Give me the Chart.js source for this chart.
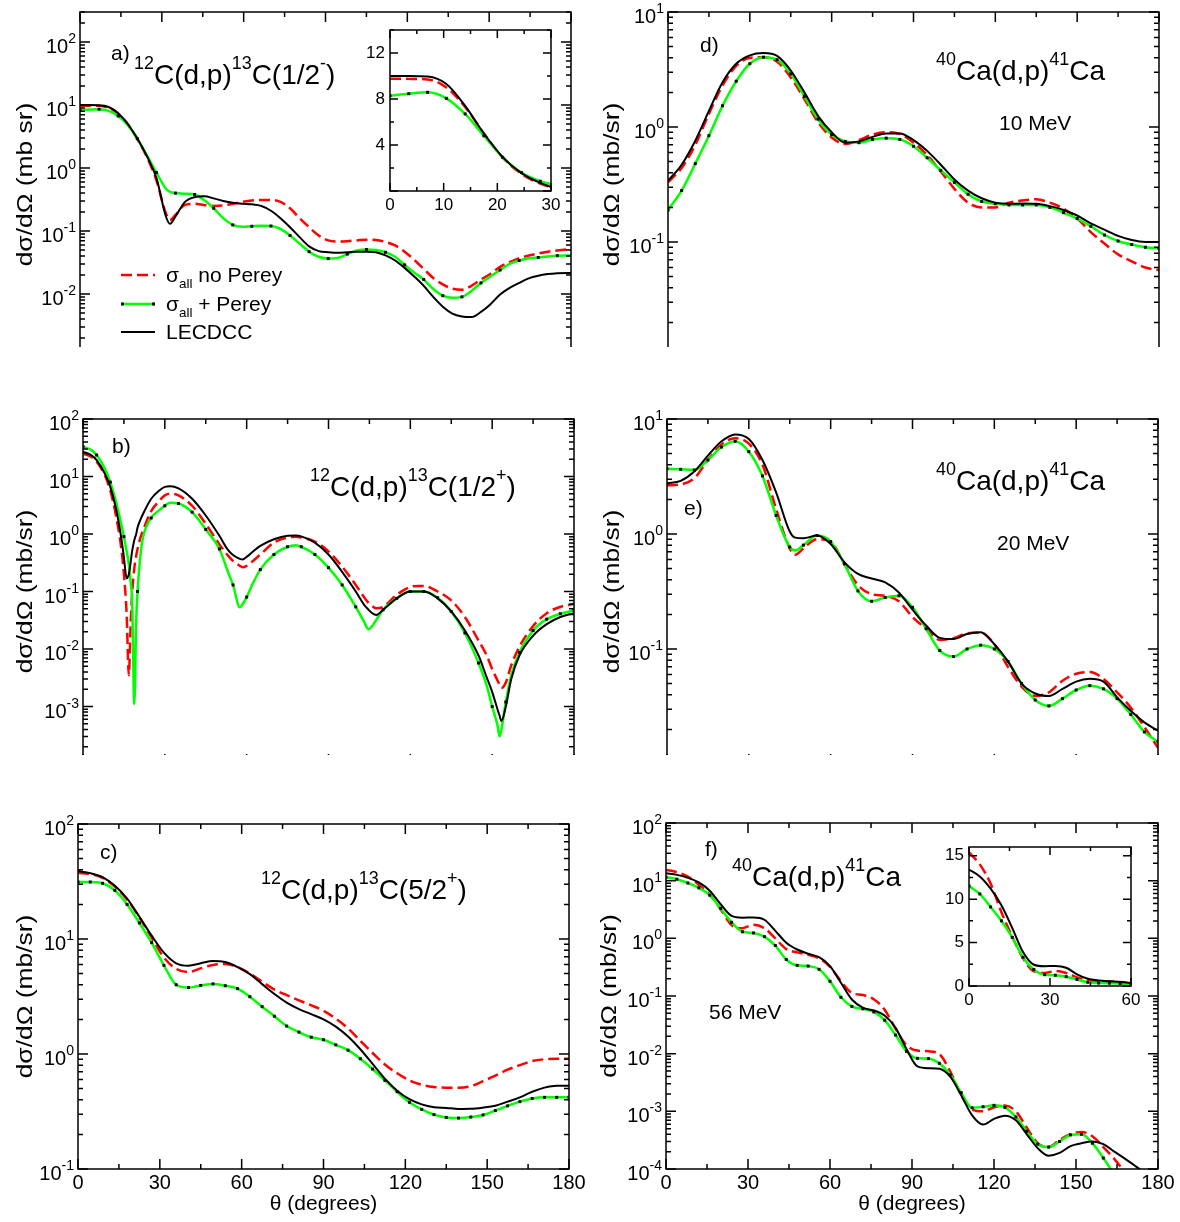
<!DOCTYPE html>
<html>
<head>
<meta charset="utf-8">
<title>(d,p) angular distributions</title>
<script src="https://cdn.jsdelivr.net/npm/chart.js@4.4.1/dist/chart.umd.min.js"></script>
<style>
  html, body { margin: 0; padding: 0; background: #fff; }
  body { width: 1180px; height: 1222px; position: relative; overflow: hidden; }
  .pan { position: absolute; overflow: hidden; }
  .pan canvas { display: block; }
</style>
</head>
<body>
<script>
const FONT = '"Liberation Sans", Arial, Helvetica, sans-serif';

// series names (legend of panel a)
const seriesNames = ['σall no Perey', 'σall + Perey', 'LECDCC'];

// ---- a) 12C(d,p)13C(1/2-) ----
const thetaA = [0,3.5,7,10.5,14,17.5,21,24.5,28,31.5,33,35,38.5,42,45.5,49,52.5,56,59.5,63,66.5,70,73.5,77,80.5,84,87.5,91,94.5,98,101.5,105,108.5,112,115.5,119,122.5,126,129.5,133,136.5,140,143.5,147,150.5,154,157.5,161,164.5,168,171.5,175,178.5,180];
const noPereyA = [9.77,9.75,9.7,9.0,7.3,5.0,2.9,1.5,0.64,0.19,0.15,0.18,0.26,0.27,0.26,0.25,0.255,0.27,0.29,0.305,0.31,0.31,0.29,0.23,0.16,0.115,0.085,0.071,0.068,0.069,0.071,0.073,0.072,0.067,0.059,0.047,0.035,0.025,0.018,0.0142,0.0122,0.0117,0.0135,0.017,0.021,0.027,0.032,0.037,0.041,0.044,0.047,0.049,0.051,0.052];
const pereyA = [8.29,8.46,8.58,8.06,6.7,4.8,2.93,1.6,0.85,0.47,0.42,0.4,0.39,0.38,0.31,0.23,0.16,0.125,0.117,0.119,0.121,0.12,0.108,0.085,0.063,0.047,0.039,0.0365,0.0375,0.043,0.049,0.051,0.05,0.046,0.039,0.029,0.022,0.017,0.012,0.0094,0.0087,0.009,0.0112,0.015,0.019,0.024,0.03,0.034,0.037,0.038,0.0395,0.0405,0.041,0.041];
const lecdccA = [10.0,10.0,9.95,9.3,7.4,5.0,2.95,1.55,0.7,0.17,0.13,0.17,0.29,0.345,0.355,0.33,0.3,0.28,0.27,0.265,0.25,0.21,0.16,0.115,0.08,0.057,0.048,0.046,0.045,0.046,0.047,0.047,0.046,0.041,0.034,0.026,0.019,0.0135,0.009,0.0063,0.0049,0.0044,0.0043,0.0052,0.0069,0.0098,0.0125,0.015,0.0177,0.0195,0.0207,0.0214,0.0216,0.0216];

// ---- b) 12C(d,p)13C(1/2+) ----
const thetaB = [0,3,5,8,10,12,14,15,16,16.8,17.5,18,18.8,19.5,20,21,22,25,28,30,32,35,40,45,50,53,55,57.5,58.5,60,62,65,70,75,78,80,85,90,95,100,103,104.7,106,107.5,110,115,120,123,125,130,135,140,145,148,150,152,152.7,153.4,155,157,160,165,170,175,180];
const noPereyB = [25,22,18,10.5,5.7,2.2,0.58,0.2,0.04,0.0035,0.03,0.09,0.25,0.42,0.55,0.85,1.15,2.5,3.8,4.7,5.05,4.7,3.1,1.5,0.66,0.43,0.34,0.28,0.265,0.28,0.33,0.44,0.71,0.87,0.9,0.87,0.74,0.5,0.27,0.13,0.08,0.063,0.056,0.051,0.054,0.088,0.12,0.125,0.125,0.1,0.07,0.036,0.014,0.0077,0.0045,0.0028,0.0024,0.0021,0.0026,0.0052,0.011,0.025,0.042,0.054,0.061];
const pereyB = [33,29,23.6,13.7,8.0,3.8,1.5,0.9,0.5,0.3,0.14,0.07,0.0011,0.03,0.1,0.4,0.87,1.9,2.6,3.1,3.5,3.4,2.4,1.2,0.55,0.23,0.13,0.053,0.06,0.08,0.13,0.24,0.44,0.6,0.64,0.6,0.44,0.26,0.13,0.054,0.03,0.022,0.025,0.032,0.048,0.076,0.1,0.1,0.1,0.078,0.045,0.019,0.0057,0.0023,0.001,0.00046,0.0003,0.0004,0.0012,0.0035,0.0087,0.021,0.033,0.041,0.047];
const lecdccB = [27,23.5,19.3,11.2,6.6,2.9,0.87,0.39,0.17,0.2,0.33,0.5,0.78,1.0,1.3,1.75,2.23,4.1,5.7,6.6,6.75,6.2,4.1,2.1,0.93,0.54,0.43,0.37,0.36,0.4,0.48,0.62,0.81,0.93,0.94,0.91,0.71,0.44,0.22,0.1,0.059,0.048,0.042,0.039,0.048,0.076,0.1,0.1,0.1,0.076,0.045,0.021,0.0077,0.0032,0.0018,0.00088,0.0007,0.00056,0.001,0.003,0.0077,0.017,0.027,0.036,0.042];

// ---- c) 12C(d,p)13C(5/2+) ----
const thetaC = [0,4.5,9,13.5,18,22.5,27,31.5,36,40.5,45,49.5,54,58.5,63,67.5,72,76.5,81,85.5,90,94.5,99,103.5,108,112.5,117,121.5,126,130.5,135,139.5,144,148.5,153,157.5,162,166.5,171,175.5,180];
const noPereyC = [37.6,36.7,34,28.6,22,15.4,10.3,6.9,5.5,5.15,5.55,5.95,6.05,5.7,5.0,4.25,3.63,3.25,2.93,2.65,2.38,2.03,1.67,1.3,1.02,0.81,0.68,0.59,0.54,0.517,0.51,0.51,0.525,0.58,0.65,0.73,0.8,0.87,0.9,0.91,0.91];
const pereyC = [31.3,31.3,30.5,26.5,20,13.8,9.3,5.9,4.0,3.78,3.95,4.07,3.92,3.7,3.15,2.58,2.13,1.75,1.55,1.4,1.33,1.2,1.08,0.91,0.74,0.59,0.47,0.38,0.33,0.297,0.281,0.277,0.283,0.295,0.322,0.354,0.385,0.41,0.42,0.42,0.42];
const lecdccC = [39,37.4,34.5,29,22.5,15.6,10.7,7.6,6.15,5.86,6.15,6.45,6.3,5.7,4.95,4.05,3.32,2.8,2.46,2.22,2.0,1.73,1.42,1.1,0.82,0.61,0.48,0.405,0.365,0.345,0.34,0.333,0.334,0.342,0.355,0.385,0.42,0.47,0.51,0.53,0.53];

// ---- d) 40Ca(d,p)41Ca, 10 MeV ----
const thetaD = [0,5,10,15,20,25,30,35,40,45,50,55,60,65,70,75,80,85,90,95,100,105,110,115,120,125,130,135,140,145,150,155,160,165,170,175,180];
const noPereyD = [0.33,0.44,0.7,1.3,2.3,3.4,4.0,4.05,3.7,2.7,1.75,1.1,0.81,0.71,0.77,0.86,0.9,0.87,0.73,0.57,0.41,0.29,0.22,0.2,0.2,0.22,0.23,0.235,0.22,0.195,0.16,0.122,0.097,0.078,0.068,0.06,0.057];
const pereyD = [0.19,0.28,0.48,0.84,1.53,2.5,3.55,4.05,3.85,2.9,1.85,1.17,0.86,0.75,0.73,0.78,0.8,0.78,0.68,0.54,0.42,0.33,0.26,0.225,0.215,0.21,0.21,0.21,0.2,0.18,0.16,0.137,0.115,0.102,0.095,0.09,0.088];
const lecdccD = [0.34,0.47,0.76,1.38,2.45,3.55,4.2,4.4,4.15,3.1,2.0,1.25,0.9,0.73,0.75,0.82,0.88,0.88,0.77,0.62,0.47,0.35,0.28,0.24,0.22,0.215,0.216,0.215,0.205,0.19,0.17,0.145,0.128,0.113,0.104,0.1,0.1];

// ---- e) 40Ca(d,p)41Ca, 20 MeV ----
const thetaE = [0,5,10,15,20,25,30,35,40,45,47,50,55,60,65,70,75,80,85,90,95,100,105,110,115,120,125,130,135,140,145,150,155,160,165,170,175,180];
const noPereyE = [2.65,2.7,3.05,4.4,6.0,6.8,6.1,4.0,1.65,0.75,0.66,0.75,0.9,0.86,0.55,0.36,0.3,0.29,0.26,0.19,0.15,0.12,0.124,0.137,0.139,0.11,0.07,0.047,0.039,0.042,0.053,0.061,0.063,0.055,0.042,0.031,0.021,0.0138];
const pereyE = [3.7,3.65,3.6,4.4,5.7,6.4,5.2,3.2,1.45,0.77,0.72,0.8,0.97,0.86,0.55,0.32,0.26,0.28,0.29,0.23,0.15,0.097,0.086,0.1,0.108,0.1,0.078,0.05,0.036,0.032,0.037,0.044,0.048,0.045,0.037,0.027,0.019,0.0156];
const lecdccE = [2.75,2.9,3.5,4.8,6.4,7.35,6.7,4.4,2.3,1.05,0.93,0.92,0.97,0.82,0.57,0.45,0.41,0.38,0.31,0.22,0.16,0.125,0.122,0.135,0.14,0.11,0.078,0.05,0.041,0.039,0.045,0.052,0.055,0.052,0.038,0.029,0.023,0.0195];

// ---- f) 40Ca(d,p)41Ca, 56 MeV ----
const thetaF = [0,4,8,12,16,20,24,28,32,36,40,44,48,52,56,60,64,68,72,76,80,84,88,92,96,100,104,108,112,116,120,124,128,132,136,140,144,148,152,156,160,164,168,172,176,180];
const noPereyF = [15.4,14.0,11.8,8.5,5.7,3.2,1.7,1.5,1.72,1.5,1.0,0.65,0.57,0.52,0.45,0.32,0.18,0.113,0.104,0.088,0.058,0.027,0.014,0.0113,0.011,0.0098,0.0049,0.0019,0.00108,0.001,0.00118,0.00126,0.001,0.00052,0.00028,0.00024,0.00032,0.0004,0.00044,0.00037,0.00024,0.00015,0.000088,0.00006,0.00004,0.00003];
const pereyF = [11.5,10.6,9.1,7.5,5.6,3.3,1.9,1.3,1.24,1.07,0.75,0.43,0.34,0.33,0.29,0.18,0.095,0.066,0.06,0.053,0.038,0.021,0.011,0.0083,0.0082,0.0068,0.0043,0.0021,0.00115,0.0012,0.00127,0.00117,0.0008,0.00045,0.00027,0.00024,0.0003,0.00039,0.0004,0.00028,0.000155,0.00008,0.00004,0.00002,0.00001,0.000005];
const lecdccF = [13.4,12.6,11.2,9.3,6.7,3.9,2.45,2.28,2.3,2.1,1.35,0.84,0.64,0.54,0.47,0.33,0.17,0.087,0.063,0.056,0.046,0.028,0.012,0.006,0.0056,0.0055,0.004,0.0019,0.00085,0.00059,0.00074,0.00084,0.0007,0.0004,0.00023,0.00017,0.00019,0.00025,0.00028,0.0003,0.00027,0.0002,0.00015,0.00011,0.00008,0.00006];

// legend / label text pieces
const legendParts = [
  [['σ'], ['all', 'sub'], [' no Perey']],
  [['σ'], ['all', 'sub'], [' + Perey']],
  [['LECDCC']]
];
const C12 = (state, parity) => [['12', 'sup'], ['C(d,p)'], ['13', 'sup'], ['C(' + state], [parity, 'sup'], [')']];
const CA40 = [['40', 'sup'], ['Ca(d,p)'], ['41', 'sup'], ['Ca']];

// ---------- helpers ----------
function onStep(v, s) { const q = v / s; return Math.abs(q - Math.round(q)) < 1e-6; }

function linTicks(min, max, major, minor) {
  const out = [];
  const n = Math.floor((max - min) / minor + 1e-6);
  for (let i = 0; i <= n; i++) {
    const v = min + i * minor;
    out.push({ v: v, major: onStep(v, major) });
  }
  return out;
}

function logTicks(min, max) {
  const out = [];
  for (let k = Math.floor(Math.log10(min)); k <= Math.ceil(Math.log10(max)); k++) {
    for (let m = 1; m <= 9; m++) {
      const v = m * Math.pow(10, k);
      if (v >= min * 0.999 && v <= max * 1.001) out.push({ v: v, major: m === 1, k: k });
    }
  }
  return out;
}

function rich(ctx, x, y, parts, size) {
  let cx = x;
  for (const p of parts) {
    const mode = p[1];
    const s = mode ? size * 0.64 : size;
    ctx.font = s + 'px ' + FONT;
    const dy = mode === 'sup' ? -size * 0.55 : (mode === 'sub' ? size * 0.3 : 0);
    ctx.fillText(p[0], cx, y + dy);
    cx += ctx.measureText(p[0]).width;
  }
}

function series(label, xs, ys, color, width, dash, order, dotStep, dotR) {
  return {
    label: label,
    data: xs.map((x, i) => ({ x: x, y: ys[i] })),
    borderColor: color,
    backgroundColor: color,
    borderWidth: width,
    borderDash: dash,
    fill: false,
    order: order,
    cubicInterpolationMode: 'monotone',
    pointStyle: 'rect',
    pointBackgroundColor: '#000',
    pointBorderWidth: 0,
    pointRadius: c => (dotStep && c.type === 'data' && onStep(c.raw.x, dotStep)) ? dotR : 0
  };
}

function drawFrame(chart, cfg) {
  const ctx = chart.ctx, a = chart.chartArea;
  const xs = chart.scales.x, ys = chart.scales.y;
  const ax = cfg.axes;
  ctx.save();
  ctx.strokeStyle = '#000';
  ctx.fillStyle = '#000';
  ctx.lineWidth = ax.lw;
  ctx.beginPath();
  const xt = linTicks(xs.min, xs.max, ax.xMajor, ax.xMinor);
  for (const t of xt) {
    const p = xs.getPixelForValue(t.v), len = t.major ? ax.tMaj : ax.tMin;
    ctx.moveTo(p, a.bottom); ctx.lineTo(p, a.bottom - len);
    ctx.moveTo(p, a.top); ctx.lineTo(p, a.top + len);
  }
  const yt = cfg.log ? logTicks(ys.min, ys.max) : linTicks(ys.min, ys.max, ax.yMajor, ax.yMinor);
  for (const t of yt) {
    const p = ys.getPixelForValue(t.v), len = t.major ? ax.tMaj : ax.tMin;
    ctx.moveTo(a.left, p); ctx.lineTo(a.left + len, p);
    ctx.moveTo(a.right, p); ctx.lineTo(a.right - len, p);
  }
  ctx.stroke();
  ctx.strokeRect(a.left, a.top, a.right - a.left, a.bottom - a.top);

  // tick labels
  ctx.textBaseline = 'alphabetic';
  if (ax.xLabels) {
    ctx.font = ax.fs + 'px ' + FONT;
    ctx.textAlign = 'center';
    for (const t of xt) if (t.major) ctx.fillText(String(t.v), xs.getPixelForValue(t.v), a.bottom + ax.xLabOff);
  }
  for (const t of yt) {
    if (!t.major) continue;
    if (ax.skipZeroY && t.v === 0) continue;
    const p = ys.getPixelForValue(t.v);
    ctx.textAlign = 'right';
    if (cfg.log) {
      const ex = String(t.k);
      ctx.font = ax.efs + 'px ' + FONT;
      const ew = ctx.measureText(ex).width;
      ctx.fillText(ex, a.left - ax.yGap, p + 1);
      ctx.font = ax.fs + 'px ' + FONT;
      ctx.fillText('10', a.left - ax.yGap - ew, p + 11);
    } else {
      ctx.font = ax.fs + 'px ' + FONT;
      ctx.textBaseline = 'middle';
      ctx.fillText(String(t.v), a.left - ax.yGap, p);
      ctx.textBaseline = 'alphabetic';
    }
  }
  ctx.restore();
}

function drawNotes(chart, cfg, ox, oy) {
  const ctx = chart.ctx, a = chart.chartArea;
  ctx.save();
  ctx.fillStyle = '#000';
  ctx.textAlign = 'left';
  ctx.textBaseline = 'alphabetic';
  for (const n of cfg.notes || []) rich(ctx, n.x - ox, n.y - oy, n.parts, n.size);

  if (cfg.ytitle) {
    // the original figure is stretched vertically, so the rotated title is elongated
    ctx.save();
    ctx.translate(cfg.ytitle.x - ox, (a.top + a.bottom) / 2);
    ctx.rotate(-Math.PI / 2);
    ctx.scale(1.2, 1);
    ctx.font = '22px ' + FONT;
    ctx.textAlign = 'center';
    ctx.textBaseline = 'middle';
    ctx.fillText(cfg.ytitle.text, 0, 0);
    ctx.restore();
  }
  if (cfg.xtitle) {
    ctx.font = '21px ' + FONT;
    ctx.textAlign = 'center';
    ctx.fillText(cfg.xtitle, (a.left + a.right) / 2, a.bottom + 41);
  }
  if (cfg.legend) {
    const L = cfg.legend;
    const sets = chart.data.datasets;
    L.rows.forEach(r => {
      const ds = sets[r.ds];
      const y = r.y - oy, x0 = L.x0 - ox, x1 = L.x1 - ox;
      ctx.save();
      ctx.strokeStyle = ds.borderColor;
      ctx.lineWidth = ds.borderWidth;
      ctx.setLineDash(ds.borderDash);
      ctx.beginPath(); ctx.moveTo(x0, y); ctx.lineTo(x1, y); ctx.stroke();
      if (r.dots) {
        ctx.fillStyle = '#000';
        ctx.fillRect(x0, y - 1.5, 3, 3);
        ctx.fillRect(x1 - 3, y - 1.5, 3, 3);
      }
      ctx.restore();
      ctx.textAlign = 'left';
      rich(ctx, L.tx - ox, y + 7, legendParts[2 - r.ds], 21);
    });
  }
  ctx.restore();
}

function makeChart(cfg) {
  const m = cfg.margin, b = cfg.box;
  const cw = b.w + m.l + m.r, ch = b.h + m.t + m.b;
  const ox = b.x - m.l, oy = b.y - m.t;
  const div = document.createElement('div');
  div.className = 'pan';
  div.style.left = ox + 'px';
  div.style.top = oy + 'px';
  div.style.width = cw + 'px';
  div.style.height = (cfg.crop ? cfg.crop - oy : ch) + 'px';
  div.style.zIndex = cfg.z || 1;
  const cv = document.createElement('canvas');
  cv.width = cw; cv.height = ch;
  cv.style.width = cw + 'px'; cv.style.height = ch + 'px';
  div.appendChild(cv);
  document.body.appendChild(div);

  const d = cfg.data;
  return new Chart(cv, {
    type: 'line',
    data: {
      datasets: [
        series(seriesNames[2], d.theta, d.lec, '#000000', 2, [], 0, 0, 0),
        series(seriesNames[1], d.theta, d.per, '#00ff00', 2.5, [], 1, cfg.dot, cfg.dotR || 2.1),
        series(seriesNames[0], d.theta, d.noPer, '#ff0000', 2.5, [11, 5], 2, 0, 0)
      ]
    },
    options: {
      responsive: false,
      animation: false,
      events: [],
      layout: { padding: { left: m.l, top: m.t, right: m.r, bottom: m.b } },
      scales: {
        x: { type: 'linear', min: cfg.x[0], max: cfg.x[1], display: false },
        y: { type: cfg.log ? 'logarithmic' : 'linear', min: cfg.y[0], max: cfg.y[1], display: false }
      },
      plugins: { legend: { display: false }, tooltip: { enabled: false } }
    },
    plugins: [{
      id: 'frame',
      afterDatasetsDraw(chart) { drawFrame(chart, cfg); },
      afterDraw(chart) { drawNotes(chart, cfg, ox, oy); }
    }]
  });
}

// ---------- panels ----------
const MAIN_M = { l: 80, t: 14, r: 16, b: 62 };
const MAIN_AX = { lw: 1.5, tMaj: 10, tMin: 5, xMajor: 30, xMinor: 15, fs: 20, efs: 14, yGap: 4, xLabOff: 20, xLabels: false };
const INSET_M = { l: 34, t: 6, r: 18, b: 28 };

const dataA = { theta: thetaA, noPer: noPereyA, per: pereyA, lec: lecdccA };
const dataB = { theta: thetaB, noPer: noPereyB, per: pereyB, lec: lecdccB };
const dataC = { theta: thetaC, noPer: noPereyC, per: pereyC, lec: lecdccC };
const dataD = { theta: thetaD, noPer: noPereyD, per: pereyD, lec: lecdccD };
const dataE = { theta: thetaE, noPer: noPereyE, per: pereyE, lec: lecdccE };
const dataF = { theta: thetaF, noPer: noPereyF, per: pereyF, lec: lecdccF };

// a)
makeChart({
  box: { x: 80, y: 12, w: 491, h: 345 }, crop: 347, margin: MAIN_M,
  data: dataA, dot: 7, x: [0, 180], y: [1e-3, 300], log: true,
  axes: MAIN_AX,
  ytitle: { text: 'dσ/dΩ (mb sr)', x: 26 },
  notes: [
    { x: 111, y: 60, size: 21, parts: [['a)']] },
    { x: 134, y: 84, size: 28, parts: C12('1/2', '-') }
  ],
  legend: { x0: 121, x1: 155, tx: 166, rows: [ { ds: 2, y: 275 }, { ds: 1, y: 304, dots: true }, { ds: 0, y: 332 } ] }
});
// inset of a)
makeChart({
  box: { x: 390, y: 30, w: 161, h: 161 }, margin: INSET_M, z: 3,
  data: dataA, dot: 3.5, dotR: 2.1, x: [0, 30], y: [0, 14], log: false,
  axes: { lw: 1.5, tMaj: 8, tMin: 4, xMajor: 10, xMinor: 5, yMajor: 4, yMinor: 2, fs: 17, yGap: 5, xLabOff: 19, xLabels: true, skipZeroY: true }
});
// d)
makeChart({
  box: { x: 668, y: 12, w: 491, h: 345 }, crop: 347, margin: MAIN_M,
  data: dataD, dot: 5, x: [0, 180], y: [1e-2, 10], log: true,
  axes: MAIN_AX,
  ytitle: { text: 'dσ/dΩ (mb/sr)', x: 613 },
  notes: [
    { x: 700, y: 52, size: 21, parts: [['d)']] },
    { x: 936, y: 80, size: 28, parts: CA40 },
    { x: 999, y: 130, size: 21, parts: [['10 MeV']] }
  ]
});
// b)
makeChart({
  box: { x: 83, y: 419, w: 491, h: 345 }, crop: 755, margin: MAIN_M,
  data: dataB, dot: 5, x: [0, 180], y: [1e-4, 100], log: true,
  axes: MAIN_AX,
  ytitle: { text: 'dσ/dΩ (mb/sr)', x: 26 },
  notes: [
    { x: 112, y: 453, size: 21, parts: [['b)']] },
    { x: 310, y: 496, size: 28, parts: C12('1/2', '+') }
  ]
});
// e)
makeChart({
  box: { x: 667, y: 419, w: 491, h: 345 }, crop: 755, margin: MAIN_M,
  data: dataE, dot: 5, x: [0, 180], y: [1e-2, 10], log: true,
  axes: MAIN_AX,
  ytitle: { text: 'dσ/dΩ (mb/sr)', x: 613 },
  notes: [
    { x: 684, y: 515, size: 21, parts: [['e)']] },
    { x: 936, y: 490, size: 28, parts: CA40 },
    { x: 997, y: 550, size: 21, parts: [['20 MeV']] }
  ]
});
// c)
makeChart({
  box: { x: 78, y: 824, w: 491, h: 345 }, margin: MAIN_M,
  data: dataC, dot: 4.5, x: [0, 180], y: [0.1, 100], log: true,
  axes: Object.assign({}, MAIN_AX, { xLabels: true }),
  ytitle: { text: 'dσ/dΩ (mb/sr)', x: 26 },
  xtitle: 'θ (degrees)',
  notes: [
    { x: 100, y: 859, size: 21, parts: [['c)']] },
    { x: 261, y: 899, size: 28, parts: C12('5/2', '+') }
  ]
});
// f)
makeChart({
  box: { x: 666, y: 823, w: 492, h: 346 }, margin: MAIN_M,
  data: dataF, dot: 4, x: [0, 180], y: [1e-4, 100], log: true,
  axes: Object.assign({}, MAIN_AX, { xLabels: true }),
  ytitle: { text: 'dσ/dΩ (mb/sr)', x: 610 },
  xtitle: 'θ (degrees)',
  notes: [
    { x: 705, y: 856, size: 21, parts: [['f)']] },
    { x: 732, y: 886, size: 28, parts: CA40 },
    { x: 709, y: 1019, size: 21, parts: [['56 MeV']] }
  ]
});
// inset of f)
makeChart({
  box: { x: 969, y: 847, w: 162, h: 139 }, margin: INSET_M, z: 3,
  data: dataF, dot: 4, dotR: 2.1, x: [0, 60], y: [0, 16], log: false,
  axes: { lw: 1.5, tMaj: 8, tMin: 4, xMajor: 30, xMinor: 15, yMajor: 5, yMinor: 2.5, fs: 17, yGap: 5, xLabOff: 19, xLabels: true }
});
</script>
</body>
</html>
